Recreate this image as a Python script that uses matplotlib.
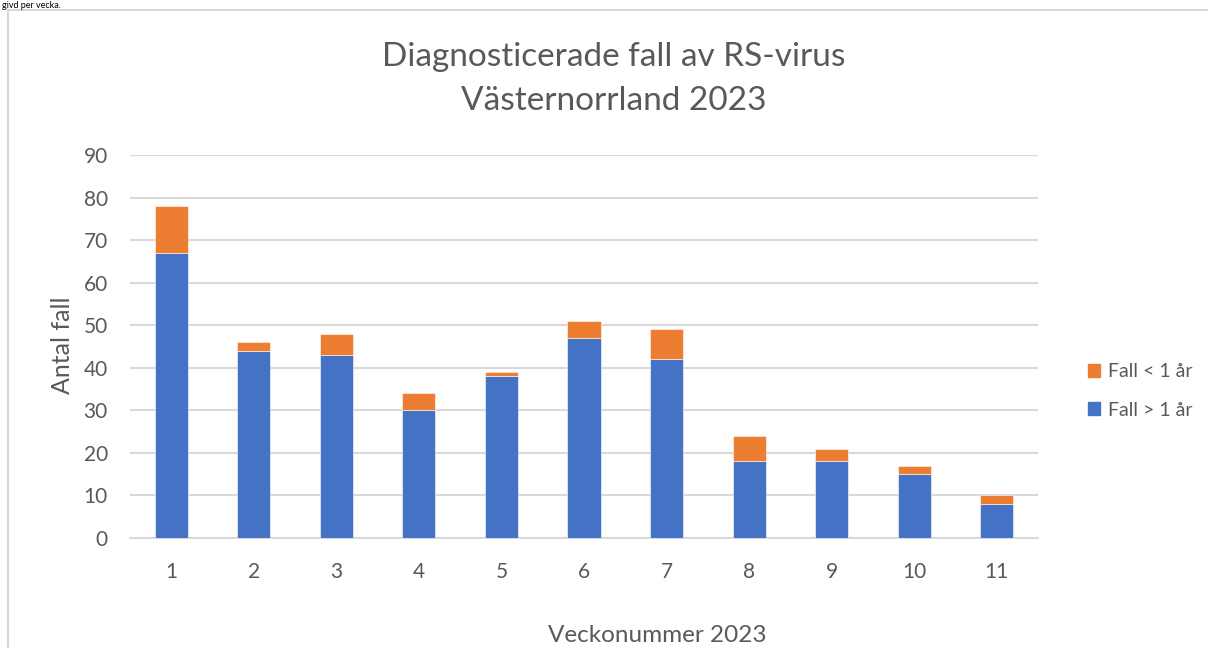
import matplotlib.pyplot as plt
from matplotlib.patches import Rectangle, Patch
import numpy as np

plt.rcParams['font.family'] = ['Lato', 'DejaVu Sans']

weeks = ['1', '2', '3', '4', '5', '6', '7', '8', '9', '10', '11']
over_1 = [67, 44, 43, 30, 38, 47, 42, 18, 18, 15, 8]
under_1 = [11, 2, 5, 4, 1, 4, 7, 6, 3, 2, 2]

blue = '#4472C4'
orange = '#ED7D31'
grey = '#595959'
grid = '#D9D9D9'

fig = plt.figure(figsize=(12.08, 6.48), dpi=100)
fig.patch.set_facecolor('white')

# chart frame (runs off at right and bottom like the screenshot)
fig.patches.append(Rectangle((8 / 1208, -0.05), 1.1, 1 - 10 / 648 + 0.05,
                             transform=fig.transFigure, fill=False,
                             edgecolor=grid, linewidth=1.5))
fig.text(2 / 1208, 1 - 1 / 648, 'givd per vecka.', fontsize=6.5,
         color='black', ha='left', va='top')

ax = fig.add_axes([130 / 1208, 1 - 538 / 648, 908 / 1208, 383 / 648])
x = np.arange(len(weeks))
ax.bar(x, over_1, width=0.4, color=blue, edgecolor='white', linewidth=0.4,
       label='Fall > 1 år', zorder=3)
ax.bar(x, under_1, width=0.4, bottom=over_1, color=orange, edgecolor='white',
       linewidth=0.4, label='Fall < 1 år', zorder=3)

ax.set_xlim(-0.5, len(weeks) - 0.5)
ax.set_ylim(0, 90)
ax.set_yticks(range(0, 91, 10))
ax.set_xticks(x)
ax.set_xticklabels(weeks)
ax.grid(axis='y', color=grid, linewidth=1.5, zorder=0)
for s in ['top', 'right', 'left']:
    ax.spines[s].set_visible(False)
ax.spines['bottom'].set_color(grid)
ax.spines['bottom'].set_linewidth(1.5)
ax.tick_params(length=0, labelsize=15, colors=grey)
ax.tick_params(axis='x', pad=17)
ax.tick_params(axis='y', pad=16)

fig.text(614 / 1208, 1 - 57 / 648, 'Diagnosticerade fall av RS-virus',
         fontsize=24, color=grey, ha='center', va='center')
fig.text(614 / 1208, 1 - 101 / 648, 'Västernorrland 2023',
         fontsize=24, color=grey, ha='center', va='center')
fig.text(62 / 1208, 1 - 345 / 648, 'Antal fall', fontsize=18, color=grey,
         rotation=90, ha='center', va='center')
fig.text(657 / 1208, 1 - 635 / 648, 'Veckonummer 2023', fontsize=17.5,
         color=grey, ha='center', va='center')

handles = [Patch(color=orange, label='Fall < 1 år'),
           Patch(color=blue, label='Fall > 1 år')]
fig.legend(handles=handles, loc='center left',
           bbox_to_anchor=(1070 / 1208, 1 - 391 / 648), frameon=False,
           fontsize=14, labelcolor=grey, handlelength=0.65, handleheight=0.65,
           handletextpad=0.4, labelspacing=1.1)

fig.savefig('out.png', dpi=100)
